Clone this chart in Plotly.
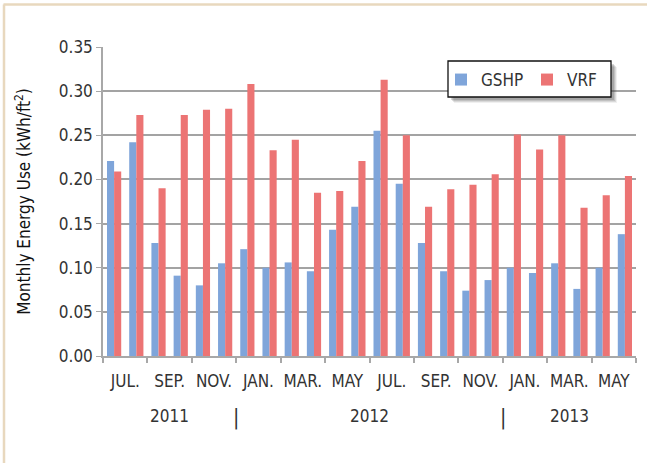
import plotly.graph_objects as go

months = ["JUL.", "AUG.", "SEP.", "OCT.", "NOV.", "DEC.",
          "JAN.", "FEB.", "MAR.", "APR.", "MAY", "JUN.",
          "JUL.", "AUG.", "SEP.", "OCT.", "NOV.", "DEC.",
          "JAN.", "FEB.", "MAR.", "APR.", "MAY", "JUN."]
gshp = [0.221, 0.242, 0.128, 0.091, 0.080, 0.105, 0.121, 0.100, 0.106, 0.096, 0.143, 0.169,
        0.255, 0.195, 0.128, 0.096, 0.074, 0.086, 0.100, 0.094, 0.105, 0.076, 0.100, 0.138]
vrf = [0.209, 0.273, 0.190, 0.273, 0.279, 0.280, 0.308, 0.233, 0.245, 0.185, 0.187, 0.221,
       0.313, 0.250, 0.169, 0.189, 0.194, 0.206, 0.251, 0.234, 0.250, 0.168, 0.182, 0.204]
tick_labels = ["JUL.", "SEP.", "NOV.", "JAN.", "MAR.", "MAY",
               "JUL.", "SEP.", "NOV.", "JAN.", "MAR.", "MAY"]
years = ["2011", "2012", "2013"]
year_spans = [(0, 5), (6, 17), (18, 23)]

FONT = "DejaVu Sans Condensed, Liberation Sans Narrow, Roboto Condensed, Roboto, sans-serif"
x = list(range(len(months)))

fig = go.Figure()
fig.add_trace(go.Bar(x=x, y=gshp, name="GSHP", marker=dict(color="#7FA5DA", line=dict(width=0))))
fig.add_trace(go.Bar(x=x, y=vrf, name="VRF", marker=dict(color="#EC7474", line=dict(width=0))))

PL, PR, PT, PB = 103, 636, 47, 356
W, H = 647, 463
def px(v):
    return (v - PL) / (PR - PL)
def py(v):
    return (PB - v) / (PB - PT)

annotations = []
for name, (a, b) in zip(years, year_spans):
    annotations.append(dict(x=(a + b) / 2, y=py(416), xref="x", yref="paper", text=name,
                            yanchor="middle", xanchor="center",
                            showarrow=False, font=dict(family=FONT, size=17, color="#333333")))
for bnd in [5.5, 17.5]:
    annotations.append(dict(x=bnd, y=py(417), xref="x", yref="paper", text="|",
                            yanchor="middle", xanchor="center",
                            showarrow=False, font=dict(family=FONT, size=21, color="#333333")))

shapes = [
    # frame
    dict(type="line", xref="paper", yref="paper", x0=px(3.5), x1=px(W), y0=py(4.5), y1=py(4.5),
         line=dict(color="#E8D8BE", width=2.5), layer="above"),
    dict(type="line", xref="paper", yref="paper", x0=px(4), x1=px(4), y0=py(4.5), y1=py(H),
         line=dict(color="#E8D8BE", width=2.5), layer="above"),
]
# legend shadow and box
for off, op in [(6, 0.08), (5, 0.12), (4, 0.15), (3, 0.2)]:
    shapes.append(dict(type="rect", xref="paper", yref="paper",
                       x0=px(448 + off), x1=px(611 + off), y0=py(97 + off), y1=py(61 + off),
                       fillcolor="rgba(60,60,60,%s)" % op, line=dict(width=0), layer="above"))
shapes.append(dict(type="rect", xref="paper", yref="paper",
                   x0=px(448), x1=px(611), y0=py(97), y1=py(61),
                   fillcolor="white", line=dict(width=1.3, color="#111111"), layer="above"))

fig.update_layout(
    width=W, height=H,
    margin=dict(l=PL, r=W - PR, t=PT, b=H - PB),
    paper_bgcolor="white", plot_bgcolor="white",
    barmode="group", bargap=0.36, bargroupgap=0.0,
    font=dict(family=FONT, color="#333333"),
    showlegend=True,
    legend=dict(orientation="h", x=px(441), y=py(80), xanchor="left", yanchor="middle",
                bgcolor="rgba(0,0,0,0)", borderwidth=0,
                font=dict(family=FONT, size=17, color="#333333"),
                entrywidth=41, itemwidth=30, traceorder="normal"),
    xaxis=dict(range=[-0.5, 23.5], tickmode="array",
               tickvals=[i + 0.5 for i in range(0, 24, 2)], ticktext=tick_labels,
               ticks="", showgrid=False, zeroline=False, ticklabelstandoff=9,
               showline=True, linecolor="#A8A8A8", linewidth=1.5,
               tickfont=dict(family=FONT, size=17, color="#333333"),
               minor=dict(tickmode="array", tickvals=[i - 0.5 for i in range(0, 25, 2)],
                          ticks="outside", ticklen=5, tickcolor="#A8A8A8", tickwidth=1.5, showgrid=False)),
    yaxis=dict(range=[0, 0.35], dtick=0.05, tickformat=".2f",
               showgrid=True, gridcolor="#A3A3A3", gridwidth=1.5, zeroline=False,
               showline=True, linecolor="#A8A8A8", linewidth=1.5,
               ticks="outside", ticklen=5, tickcolor="#A8A8A8",
               tickfont=dict(family=FONT, size=17, color="#333333"),
               title=dict(text="Monthly Energy Use (kWh/ft<sup>2</sup>)",
                          font=dict(family=FONT, size=17, color="#111111"), standoff=24)),
    annotations=annotations,
    shapes=shapes,
)

fig.write_html("out.html", config={"displayModeBar": False},
               post_script="document.body.style.margin='0';")
